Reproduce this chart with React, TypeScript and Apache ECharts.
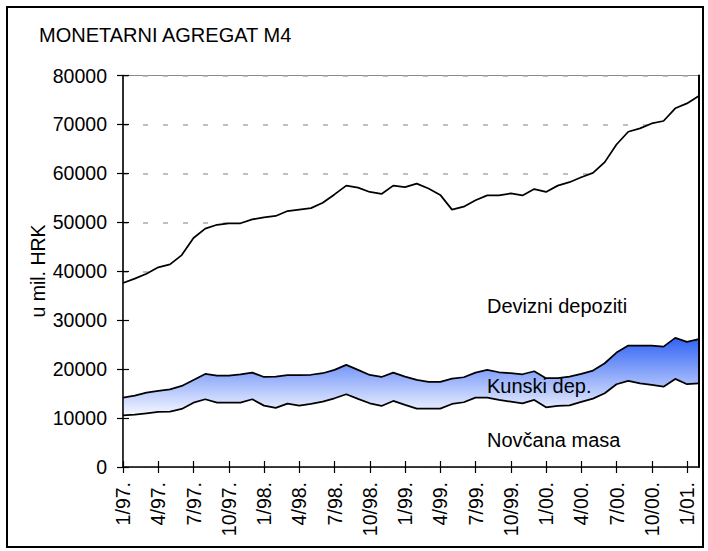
import React, { useEffect, useRef } from "react";
import * as echarts from "echarts";

const categories: string[] = [
  "1/97.", "2/97.", "3/97.", "4/97.", "5/97.", "6/97.", "7/97.", "8/97.", "9/97.", "10/97.", "11/97.", "12/97.",
  "1/98.", "2/98.", "3/98.", "4/98.", "5/98.", "6/98.", "7/98.", "8/98.", "9/98.", "10/98.", "11/98.", "12/98.",
  "1/99.", "2/99.", "3/99.", "4/99.", "5/99.", "6/99.", "7/99.", "8/99.", "9/99.", "10/99.", "11/99.", "12/99.",
  "1/00.", "2/00.", "3/00.", "4/00.", "5/00.", "6/00.", "7/00.", "8/00.", "9/00.", "10/00.", "11/00.", "12/00.",
  "1/01.", "2/01.",
];

const novcanaMasa: number[] = [
  10570, 10700, 10980, 11250, 11310, 11860, 13150, 13840, 13150, 13150, 13150, 13840,
  12540, 12070, 12950, 12540, 12900, 13360, 14040, 14860, 13910, 13020, 12470, 13500,
  12680, 11930, 11930, 11930, 12880, 13230, 14170, 14170, 13700, 13360, 13020, 13700,
  12200, 12470, 12610, 13290, 13970, 15070, 16910, 17590, 17110, 16770, 16420, 18000,
  16910, 17110,
];

const kunskiDep: number[] = [
  3600, 3880, 4220, 4290, 4570, 4700, 4640, 5180, 5520, 5520, 5800, 5450,
  5860, 6400, 5800, 6210, 5950, 5800, 5800, 6000, 5930, 5790, 5930, 5790,
  5790, 5860, 5450, 5450, 5180, 5110, 5120, 5670, 5660, 5800, 5930, 5870,
  5940, 5670, 5860, 5730, 5730, 6130, 6470, 7220, 7700, 8040, 8180, 8380,
  8650, 9000,
];

const devizniDepoziti: number[] = [
  23430, 23920, 24300, 25260, 25520, 26740, 29010, 29680, 30830, 31130, 30850, 31310,
  32600, 32830, 33550, 33850, 34050, 34840, 35860, 36640, 37260, 37390, 37400, 38210,
  38730, 40110, 39520, 38220, 34540, 34860, 35210, 35660, 36140, 36740, 36550, 37230,
  38060, 39360, 39730, 40180, 40400, 41100, 42520, 43690, 44390, 45390, 46100, 46920,
  48740, 49690,
];

const FONT = "'Liberation Sans', Arial, sans-serif";

export default function App() {
  const ref = useRef<HTMLDivElement>(null);

  useEffect(() => {
    if (!ref.current) return;
    const chart = echarts.init(ref.current, undefined, { renderer: "svg" });
    const gridPos = { left: 123, top: 75.5, width: 575.75, height: 391.5 };
    const yBase = { type: "value" as const, min: 0, max: 80000, interval: 10000, gridIndex: 0 };
    const lineBase = { color: "#000", width: 1.75 };

    chart.setOption({
      animation: false,
      backgroundColor: "#fff",
      textStyle: { fontFamily: FONT },
      grid: { ...gridPos, show: true, borderColor: "#8a8a8a", borderWidth: 1.2, backgroundColor: "transparent" },
      xAxis: [
        {
          type: "category",
          data: categories,
          boundaryGap: false,
          position: "bottom",
          z: 10,
          axisLine: { show: true, lineStyle: { color: "#000", width: 1.5 } },
          axisTick: { show: true, inside: false, length: 6, interval: 2, lineStyle: { color: "#000", width: 1.2 } },
          axisLabel: { interval: 2, rotate: 90, margin: 15, fontSize: 19.5, color: "#000", fontFamily: FONT },
          splitLine: { show: false },
        },
        {
          type: "category",
          data: categories,
          boundaryGap: false,
          position: "bottom",
          z: 10,
          axisLine: { show: false },
          axisTick: { show: true, inside: true, length: 6, interval: 2, lineStyle: { color: "#000", width: 1.2 } },
          axisLabel: { show: false },
          splitLine: { show: false },
        },
      ],
      yAxis: [
        {
          ...yBase,
          position: "left",
          z: 0,
          axisLine: { show: false },
          axisTick: { show: false },
          axisLabel: {
            margin: 16,
            fontSize: 19.5,
            color: "#000",
            fontFamily: FONT,
            formatter: (v: number) => String(v),
          },
          splitLine: { show: true, lineStyle: { color: "#aaaaaa", width: 1.5, type: [5, 15] } },
        },
        {
          ...yBase,
          position: "left",
          z: 10,
          axisLine: { show: true, lineStyle: { color: "#000", width: 1.5 } },
          axisTick: { show: true, inside: false, length: 6, lineStyle: { color: "#000", width: 1.2 } },
          axisLabel: { show: false },
          splitLine: { show: false },
        },
        {
          ...yBase,
          position: "left",
          z: 10,
          axisLine: { show: false },
          axisTick: { show: true, inside: true, length: 6, lineStyle: { color: "#000", width: 1.2 } },
          axisLabel: { show: false },
          splitLine: { show: false },
        },
        {
          ...yBase,
          position: "right",
          z: 10,
          axisLine: { show: true, lineStyle: { color: "#000", width: 2 } },
          axisTick: { show: false },
          axisLabel: { show: false },
          splitLine: { show: false },
        },
      ],
      series: [
        {
          name: "Novčana masa",
          type: "line",
          stack: "m4",
          xAxisIndex: 0,
          yAxisIndex: 0,
          data: novcanaMasa,
          symbol: "none",
          z: 5,
          lineStyle: lineBase,
          areaStyle: { color: "#ffffff", opacity: 1 },
        },
        {
          name: "Kunski dep.",
          type: "line",
          stack: "m4",
          xAxisIndex: 0,
          yAxisIndex: 0,
          data: kunskiDep,
          symbol: "none",
          z: 4,
          lineStyle: lineBase,
          areaStyle: {
            opacity: 1,
            color: new echarts.graphic.LinearGradient(0, 0, 0, 1, [
              { offset: 0, color: "#3163f5" },
              { offset: 1, color: "#f6f8ff" },
            ]),
          },
        },
        {
          name: "Devizni depoziti",
          type: "line",
          stack: "m4",
          xAxisIndex: 0,
          yAxisIndex: 0,
          data: devizniDepoziti,
          symbol: "none",
          z: 3,
          lineStyle: lineBase,
          areaStyle: { color: "#ffffff", opacity: 1 },
        },
      ],
      graphic: [
        {
          type: "rect",
          shape: { x: 7, y: 7, width: 696, height: 540 },
          style: { fill: "none", stroke: "#000", lineWidth: 2 },
          z: 20,
        },
        {
          type: "text",
          x: 39,
          y: 35,
          style: { text: "MONETARNI AGREGAT M4", fontSize: 20, fontFamily: FONT, fill: "#000", verticalAlign: "middle", align: "left" },
          z: 20,
        },
        {
          type: "text",
          x: 38,
          y: 271,
          rotation: Math.PI / 2,
          style: { text: "u mil. HRK", fontSize: 19.5, fontFamily: FONT, fill: "#000", verticalAlign: "middle", align: "center" },
          z: 20,
        },
        {
          type: "text",
          x: 487,
          y: 306,
          style: { text: "Devizni depoziti", fontSize: 20, fontFamily: FONT, fill: "#000", verticalAlign: "middle", align: "left" },
          z: 20,
        },
        {
          type: "text",
          x: 487,
          y: 386,
          style: { text: "Kunski dep.", fontSize: 20, fontFamily: FONT, fill: "#000", verticalAlign: "middle", align: "left" },
          z: 20,
        },
        {
          type: "text",
          x: 487,
          y: 440,
          style: { text: "Novčana masa", fontSize: 20, fontFamily: FONT, fill: "#000", verticalAlign: "middle", align: "left" },
          z: 20,
        },
      ],
    });

    return () => chart.dispose();
  }, []);

  return (
    <div
      ref={ref}
      style={{ position: "fixed", left: 0, top: 0, width: 708, height: 551, background: "#fff" }}
    />
  );
}
